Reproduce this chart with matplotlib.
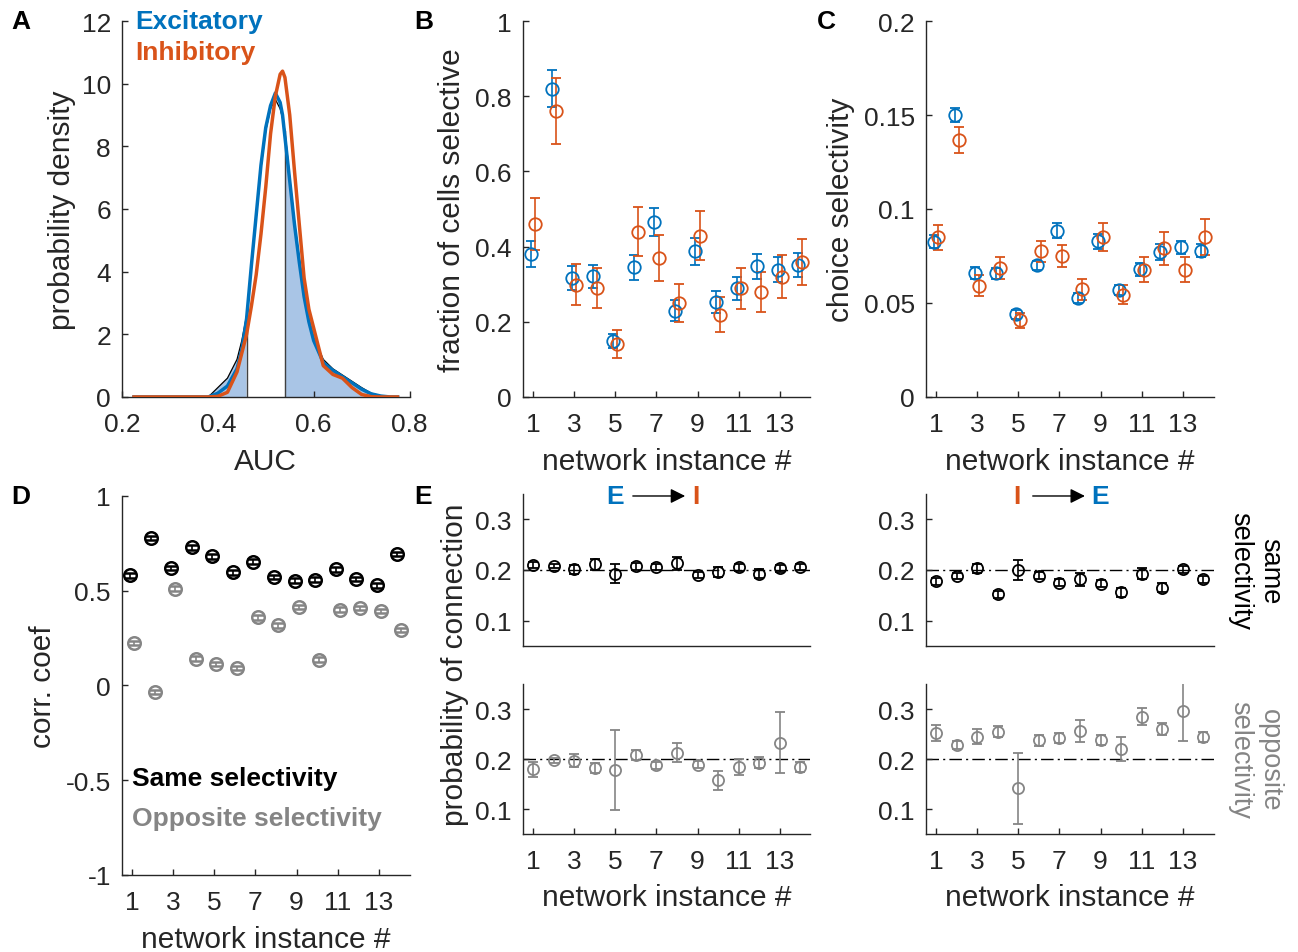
import numpy as np
import matplotlib
matplotlib.use('Agg')
import matplotlib.pyplot as plt

plt.rcParams['font.family'] = ['Liberation Sans', 'DejaVu Sans']

blue = '#0072BD'
orange = '#D95319'
gray = '#858585'
dark = '#262626'
fill_c = '#a9c5e6'

net = np.arange(1, 15)
net_ticks = [1, 3, 5, 7, 9, 11, 13]

# panel A: AUC densities
auc = [0.225, 0.30, 0.36, 0.38, 0.40, 0.42, 0.44, 0.45, 0.46, 0.47, 0.48, 0.49,
       0.50, 0.51, 0.52, 0.53, 0.535, 0.54, 0.55, 0.56, 0.57, 0.58, 0.59, 0.60,
       0.62, 0.64, 0.66, 0.68, 0.70, 0.72, 0.74, 0.76, 0.775]
dens_exc = [0, 0, 0, 0.0, 0.12, 0.35, 0.9, 1.5, 2.5, 4.2, 5.8, 7.4,
            8.6, 9.3, 9.7, 9.4, 9.0, 8.3, 6.9, 5.5, 4.3, 3.2, 2.4, 1.8,
            1.1, 0.85, 0.65, 0.45, 0.25, 0.1, 0.03, 0, 0]
dens_inh = [0, 0, 0, 0, 0.02, 0.15, 0.8, 1.4, 2.0, 2.9, 3.9, 5.2,
            6.7, 8.4, 9.6, 10.3, 10.4, 10.2, 9.0, 7.2, 5.5, 3.8, 2.8, 2.2,
            1.0, 0.72, 0.6, 0.3, 0.08, 0.01, 0, 0, 0]
dens_all = [0, 0, 0, 0.0, 0.3, 0.6, 1.2, 1.8, 2.6, 4.1, 5.7, 7.3,
            8.5, 9.2, 9.5, 9.2, 8.9, 8.5, 7.0, 5.6, 4.4, 3.3, 2.5, 1.9,
            1.2, 0.9, 0.7, 0.5, 0.3, 0.12, 0.04, 0, 0]
auc_lo, auc_hi = 0.46, 0.54

# panel B: fraction of cells selective
frac_exc = [0.381, 0.820, 0.316, 0.321, 0.148, 0.345, 0.466, 0.230, 0.387, 0.252, 0.289, 0.348, 0.338, 0.352]
frac_exc_err = [0.034, 0.050, 0.032, 0.031, 0.019, 0.033, 0.037, 0.027, 0.035, 0.029, 0.031, 0.033, 0.033, 0.032]
frac_inh = [0.460, 0.761, 0.299, 0.290, 0.140, 0.440, 0.370, 0.250, 0.429, 0.219, 0.289, 0.279, 0.320, 0.358]
frac_inh_err = [0.068, 0.087, 0.054, 0.054, 0.037, 0.066, 0.061, 0.050, 0.065, 0.047, 0.055, 0.053, 0.057, 0.061]

# panel C: choice selectivity
sel_exc = [0.0827, 0.150, 0.066, 0.0658, 0.044, 0.070, 0.0885, 0.0527, 0.0828, 0.057, 0.068, 0.077, 0.0796, 0.0779]
sel_exc_err = [0.0035, 0.0036, 0.0033, 0.003, 0.0025, 0.0025, 0.004, 0.0025, 0.004, 0.0025, 0.0035, 0.0044, 0.0035, 0.0035]
sel_inh = [0.085, 0.1368, 0.0593, 0.0685, 0.0407, 0.0775, 0.0749, 0.0572, 0.085, 0.0545, 0.0678, 0.0791, 0.0678, 0.085]
sel_inh_err = [0.0066, 0.007, 0.0055, 0.0058, 0.0038, 0.0055, 0.0058, 0.0055, 0.0074, 0.005, 0.0065, 0.0088, 0.0065, 0.0096]

# panel D: correlation coefficients
corr_same = [0.581, 0.778, 0.620, 0.729, 0.681, 0.597, 0.653, 0.572, 0.553, 0.558, 0.613, 0.562, 0.528, 0.694]
corr_same_err = [0.012] * 14
corr_opp = [0.225, -0.035, 0.511, 0.141, 0.114, 0.092, 0.359, 0.317, 0.415, 0.136, 0.400, 0.410, 0.393, 0.294]
corr_opp_err = [0.012] * 14

# panel E: probability of connection
ei_same = [0.209, 0.208, 0.201, 0.211, 0.193, 0.207, 0.206, 0.213, 0.190, 0.196, 0.205, 0.193, 0.203, 0.206]
ei_same_err = [0.006, 0.004, 0.008, 0.011, 0.018, 0.007, 0.006, 0.013, 0.006, 0.010, 0.007, 0.008, 0.006, 0.006]
ei_opp = [0.180, 0.198, 0.197, 0.183, 0.178, 0.209, 0.188, 0.213, 0.189, 0.158, 0.185, 0.193, 0.233, 0.185]
ei_opp_err = [0.015, 0.005, 0.013, 0.010, 0.080, 0.010, 0.007, 0.019, 0.007, 0.019, 0.016, 0.011, 0.061, 0.010]
ie_same = [0.178, 0.188, 0.203, 0.152, 0.200, 0.189, 0.175, 0.182, 0.173, 0.156, 0.193, 0.165, 0.201, 0.182]
ie_same_err = [0.007, 0.006, 0.009, 0.007, 0.019, 0.007, 0.007, 0.013, 0.007, 0.009, 0.011, 0.009, 0.006, 0.007]
ie_opp = [0.253, 0.228, 0.245, 0.255, 0.142, 0.238, 0.242, 0.256, 0.238, 0.220, 0.285, 0.261, 0.296, 0.244]
ie_opp_err = [0.016, 0.008, 0.015, 0.011, 0.071, 0.011, 0.010, 0.022, 0.010, 0.024, 0.017, 0.012, 0.059, 0.010]
p_chance = 0.2


def style(ax):
    ax.spines['top'].set_visible(False)
    ax.spines['right'].set_visible(False)
    for s in ['left', 'bottom']:
        ax.spines[s].set_color(dark)
        ax.spines[s].set_linewidth(1.0)
    ax.tick_params(direction='in', length=4, width=1, colors=dark, labelsize=19)
    ax.tick_params(axis='x', pad=11)
    ax.tick_params(axis='y', pad=8)


def ebar(ax, x, y, e, c, ms=9, mew=1.3, cap=3.5):
    ax.errorbar(x, y, yerr=e, fmt='o', mfc='none', mec=c, ecolor=c, ms=ms,
                mew=mew, elinewidth=1.2, capsize=cap, capthick=1.2, zorder=3)


fig = plt.figure(figsize=(12.98, 9.53), dpi=100)

W = 0.2215
axA = fig.add_axes([0.0940, 0.5824, W, 0.3945])
axB = fig.add_axes([0.4029, 0.5824, W, 0.3945])
axC = fig.add_axes([0.7134, 0.5824, W, 0.3945])
axD = fig.add_axes([0.0940, 0.0808, W, 0.3977])
axE1 = fig.add_axes([0.4029, 0.3211, W, 0.1595])
axE2 = fig.add_axes([0.4029, 0.1238, W, 0.1574])
axE3 = fig.add_axes([0.7134, 0.3211, W, 0.1595])
axE4 = fig.add_axes([0.7134, 0.1238, W, 0.1574])

# A
auc_a = np.array(auc)
all_a = np.array(dens_all)
outside = (auc_a <= auc_lo) | (auc_a >= auc_hi)
axA.fill_between(auc_a, 0, all_a, where=outside, color=fill_c, lw=0, zorder=1)
axA.plot(auc_a, all_a, color='k', lw=0.9, zorder=2)
for xv in [auc_lo, auc_hi]:
    axA.plot([xv, xv], [0, np.interp(xv, auc_a, all_a)], color='#404040', lw=1.0, zorder=2)
axA.plot(auc, dens_exc, color=blue, lw=2.5, zorder=3)
axA.plot(auc, dens_inh, color=orange, lw=2.5, zorder=4)
axA.set_xlim(0.2, 0.8)
axA.set_ylim(0, 12)
axA.set_xticks([0.2, 0.4, 0.6, 0.8])
axA.set_xticklabels(['0.2', '0.4', '0.6', '0.8'])
axA.set_yticks(range(0, 13, 2))
style(axA)
axA.set_xlabel('AUC', fontsize=21.5, color=dark, va='center')
axA.xaxis.set_label_coords(0.5, -0.17)
axA.set_ylabel('probability density', fontsize=21.5, color=dark, va='center')
axA.yaxis.set_label_coords(-0.209, 0.5)
axA.text(0.045, 1.0, 'Excitatory', color=blue, fontsize=19, fontweight='bold',
         transform=axA.transAxes, va='center', ha='left')
axA.text(0.045, 0.9176, 'Inhibitory', color=orange, fontsize=19, fontweight='bold',
         transform=axA.transAxes, va='center', ha='left')

# B
ebar(axB, net - 0.1, frac_exc, frac_exc_err, blue)
ebar(axB, net + 0.1, frac_inh, frac_inh_err, orange)
axB.set_ylim(0, 1)
axB.set_yticks([0, 0.2, 0.4, 0.6, 0.8, 1])
axB.set_yticklabels(['0', '0.2', '0.4', '0.6', '0.8', '1'])
axB.set_ylabel('fraction of cells selective', fontsize=21.5, color=dark, va='center')
axB.yaxis.set_label_coords(-0.247, 0.5)

# C
ebar(axC, net - 0.1, sel_exc, sel_exc_err, blue)
ebar(axC, net + 0.1, sel_inh, sel_inh_err, orange)
axC.set_ylim(0, 0.2)
axC.set_yticks([0, 0.05, 0.1, 0.15, 0.2])
axC.set_yticklabels(['0', '0.05', '0.1', '0.15', '0.2'])
axC.set_ylabel('choice selectivity', fontsize=21.5, color=dark, va='center')
axC.yaxis.set_label_coords(-0.296, 0.5)

# D
ebar(axD, net - 0.1, corr_same, corr_same_err, 'k', ms=9, mew=1.8, cap=4.5)
ebar(axD, net + 0.1, corr_opp, corr_opp_err, gray, ms=9, mew=1.8, cap=4.5)
axD.set_ylim(-1, 1)
axD.set_yticks([-1, -0.5, 0, 0.5, 1])
axD.set_yticklabels(['-1', '-0.5', '0', '0.5', '1'])
axD.set_ylabel('corr. coef', fontsize=21.5, color=dark, va='center')
axD.yaxis.set_label_coords(-0.275, 0.5)
axD.text(1.0, -0.49, 'Same selectivity', color='k', fontsize=19, fontweight='bold', va='center')
axD.text(1.0, -0.70, 'Opposite selectivity', color=gray, fontsize=19, fontweight='bold', va='center')

for ax in [axB, axC, axD, axE2, axE4]:
    ax.set_xlim(0.5, 14.5)
    ax.set_xticks(net_ticks)
    style(ax)
    ax.set_xlabel('network instance #', fontsize=21.5, color=dark, va='center')
for ax in [axB, axC, axD]:
    ax.xaxis.set_label_coords(0.5, -0.17)
for ax in [axE2, axE4]:
    ax.xaxis.set_label_coords(0.5, -0.42)

# E
for ax, y, e, c in [(axE1, ei_same, ei_same_err, 'k'), (axE2, ei_opp, ei_opp_err, gray),
                    (axE3, ie_same, ie_same_err, 'k'), (axE4, ie_opp, ie_opp_err, gray)]:
    ax.axhline(p_chance, color='k', lw=1.0, ls=(0, (9, 3, 1.5, 3)), zorder=1)
    ebar(ax, net, y, e, c, ms=8, mew=1.3, cap=3.5)
    ax.set_ylim(0.05, 0.35)
    ax.set_yticks([0.1, 0.2, 0.3])
    ax.set_yticklabels(['0.1', '0.2', '0.3'])
    if ax in (axE1, axE3):
        ax.set_xlim(0.5, 14.5)
        style(ax)
        ax.set_xticks([])

fig.text(0.3505, 0.302, 'probability of connection', fontsize=21.5, color=dark,
         rotation=90, ha='center', va='center')

# arrows above E
fig.text(0.4738, 0.4785, 'E', color=blue, fontsize=19, fontweight='bold', ha='center', va='center')
fig.text(0.5362, 0.4785, 'I', color=orange, fontsize=19, fontweight='bold', ha='center', va='center')
fig.text(0.7835, 0.4785, 'I', color=orange, fontsize=19, fontweight='bold', ha='center', va='center')
fig.text(0.8475, 0.4785, 'E', color=blue, fontsize=19, fontweight='bold', ha='center', va='center')
for x0, x1 in [(0.4854, 0.5300), (0.7935, 0.8380)]:
    fig.add_artist(matplotlib.patches.FancyArrowPatch(
        (x0, 0.4785), (x1, 0.4785), transform=fig.transFigure,
        arrowstyle='-|>', mutation_scale=22, color='k', lw=1.0))

fig.text(0.967, 0.4008, 'same\nselectivity', fontsize=19.5, color='k', rotation=-90,
         ha='center', va='center', multialignment='center')
fig.text(0.967, 0.2025, 'opposite\nselectivity', fontsize=19.5, color=gray, rotation=-90,
         ha='center', va='center', multialignment='center')

# panel letters
for lab, x, y in [('A', 0.009, 0.977), ('B', 0.319, 0.977), ('C', 0.629, 0.977),
                  ('D', 0.009, 0.478), ('E', 0.319, 0.478)]:
    fig.text(x, y, lab, fontsize=19, fontweight='bold', ha='left', va='center')

fig.savefig('out.png', dpi=100, facecolor='white')
